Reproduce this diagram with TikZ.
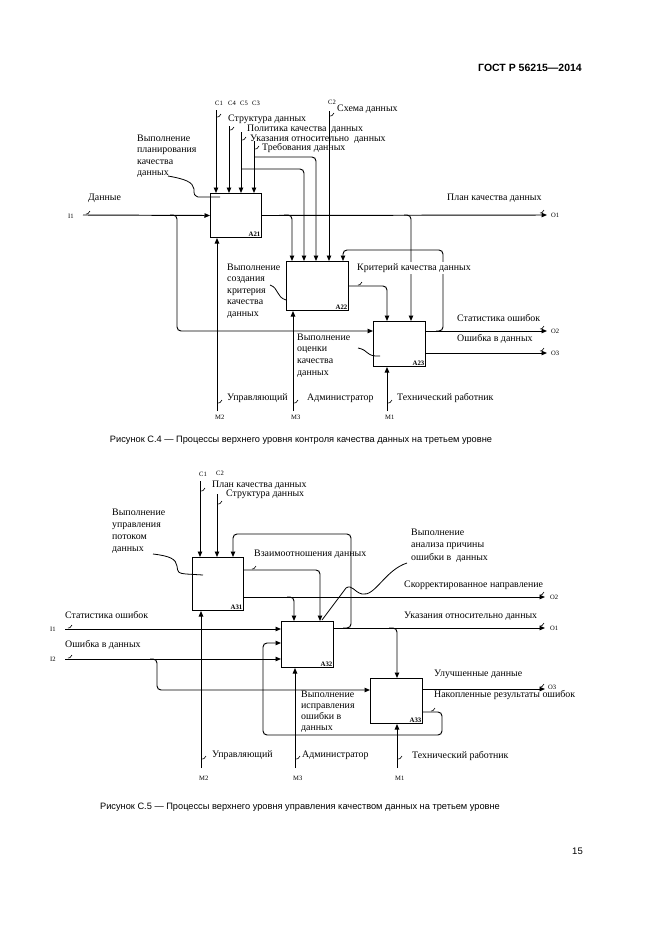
\documentclass[tikz,border=0pt]{standalone}
\usepackage{fontspec}
\setmainfont{Liberation Serif}
\newfontfamily\arialf{Liberation Sans}
\usetikzlibrary{arrows.meta}
\begin{document}
\begin{tikzpicture}[x=1pt,y=-1pt,
  every node/.style={inner sep=0pt},
  box/.style={draw, line width=1pt, anchor=north west},
  ln/.style={line width=0.95pt, rounded corners=4pt},
  arr/.style={ln, -{Triangle[length=5.5pt,width=4.5pt]}},
  lbl/.style={anchor=west, font=\fontsize{9.9}{11.4}\selectfont},
  mlbl/.style={anchor=north west, align=left, font=\fontsize{9.9}{11.5}\selectfont},
  tiny/.style={anchor=west, font=\fontsize{6.6}{7}\selectfont},
  code/.style={anchor=south east, inner sep=1.5pt, font=\bfseries\fontsize{6.8}{7}\selectfont},
  sq/.style={line width=0.6pt},
  lead/.style={line width=0.8pt},
  capt/.style={font=\arialf\fontsize{9.25}{10}\selectfont},
  sqg/.pic={\draw[sq] (0,0) .. controls (1.5,1.5) and (2.5,-1.5) .. (4,-3);}
]
\useasboundingbox[fill=white] (0,0) rectangle (661,935);

% header and footer
\node[anchor=east, font=\arialf\bfseries\fontsize{10.5}{12}\selectfont] (hdr) at (582,68) {ГОСТ Р 56215—2014};
\node[anchor=east, font=\arialf\fontsize{9.5}{11}\selectfont] (pg) at (583,851) {15};

% ================= Diagram 1 =================
\node[box, minimum width=51pt, minimum height=44pt] (A21) at (210,193) {};
\node[box, minimum width=62pt, minimum height=49pt] (A22) at (286,261) {};
\node[box, minimum width=52pt, minimum height=45pt] (A23) at (373,321) {};
\node[code] at (A21.south east) {A21};
\node[code] at (A22.south east) {A22};
\node[code] at (A23.south east) {A23};

% free ends and branch points
\coordinate (c1) at (216,110);
\coordinate (c4) at (229,126);
\coordinate (c5) at (241,132);
\coordinate (c3) at (254,141);
\coordinate (c2) at (329,111);
\coordinate (c5b) at (241,169);
\coordinate (c5t) at (304,169);
\coordinate (c3b) at (254,157);
\coordinate (c3t) at (316,157);
\coordinate (i1) at (83,215);
\coordinate (i1b) at (170,215);
\coordinate (i1c) at (177,331);
\coordinate (o1) at (547,215);
\coordinate (o1b) at (284,215);
\coordinate (o1c) at (292,215);
\coordinate (o1d) at (404,215);
\coordinate (o1e) at (411,215);
\coordinate (a22o) at (348,286);
\coordinate (a22c) at (387,286);
\coordinate (a23o2) at (425,331);
\coordinate (o2) at (547,331);
\coordinate (fbb) at (436,331);
\coordinate (fbc) at (443,250);
\coordinate (fbd) at (343,250);
\coordinate (a23o3) at (425,353);
\coordinate (o3) at (547,353);
\coordinate (m2) at (217,411);
\coordinate (m3) at (293,411);
\coordinate (m1) at (387,411);

% controls of A21
\draw[arr] (c1) -- (c1 |- A21.north);
\draw[arr] (c4) -- (c4 |- A21.north);
\draw[arr] (c5) -- (c5 |- A21.north);
\draw[arr] (c3) -- (c3 |- A21.north);
% branches to A22
\draw[arr] (c5b) -- (c5t) -- (c5t |- A22.north);
\draw[arr] (c3b) -- (c3t) -- (c3t |- A22.north);
\draw[arr] (c2) -- (c2 |- A22.north);
% input I1
\draw[arr] (i1) -- (A21.west);
\draw[arr] (i1b) -- (i1b -| i1c) -- (i1c) -- (i1c -| A23.west);
% output of A21
\draw[arr] (A21.east) -- (o1);
\draw[arr] (o1b) -- (o1c) -- (o1c |- A22.north);
\draw[arr] (o1d) -- (o1e) -- (o1e |- A23.north);
% A22 output
\draw[arr] (a22o) -- (a22c) -- (a22c |- A23.north);
% A23 outputs
\draw[arr] (a23o2) -- (o2);
\draw[arr] (fbb) -- (fbb -| fbc) -- (fbc) -- (fbd) -- (fbd |- A22.north);
\draw[arr] (a23o3) -- (o3);
% mechanisms
\draw[arr] (m2) -- (m2 |- A21.south);
\draw[arr] (m3) -- (m3 |- A22.south);
\draw[arr] (m1) -- (m1 |- A23.south);

% squiggles
\pic at (217,117) {sqg};
\pic at (230,130) {sqg};
\pic at (242,140) {sqg};
\pic at (255,149) {sqg};
\pic at (330,116) {sqg};
\pic at (86,214) {sqg};
\pic at (358,285) {sqg};
\pic at (540,213) {sqg};
\pic at (540,329) {sqg};
\pic at (540,351) {sqg};
\pic at (218,403) {sqg};
\pic at (294,403) {sqg};
\pic at (388,403) {sqg};

% leaders
\draw[lead] (168,176) .. controls (185,179) and (193,182) .. (194,189) .. controls (194,195) .. (198,197) -- (220,197);
\draw[lead] (270,285) .. controls (279,288) and (276,297) .. (286,300);
\draw[lead] (358,348) .. controls (369,350) and (366,357) .. (380,356);

% labels
\node[tiny] (tc1) at (215,103) {C1};
\node[tiny] (tc4) at (228,103) {C4};
\node[tiny] (tc5) at (240,103) {C5};
\node[tiny] (tc3) at (252,103) {C3};
\node[tiny] (tc2) at (328,102) {C2};
\node[lbl] (l1) at (228,119) {Структура данных};
\node[lbl] (l2) at (247,129) {Политика качества\ \ данных};
\node[lbl] (l3) at (250,139) {Указания относительно\ \ данных};
\node[lbl] (l4) at (262,148) {Требования данных};
\node[lbl] (l5) at (337,109) {Схема данных};
\node[lbl] (l6) at (88,198) {Данные};
\node[tiny] (ti1) at (68,216) {I1};
\node[lbl] (l7) at (447,198) {План качества данных};
\node[tiny] (to1) at (551,215) {O1};
\node[mlbl] (n21) at (137,134.5) {Выполнение\\планирования\\качества\\данных};
\node[mlbl] (n22) at (227,263.5) {Выполнение\\создания\\критерия\\качества\\данных};
\node[lbl, fill=white, inner ysep=2pt] (l8) at (357,268) {Критерий качества данных};
\node[mlbl, font=\fontsize{9.9}{11.7}\selectfont] (n23) at (297,333.5) {Выполнение\\оценки\\качества\\данных};
\node[lbl] (l9) at (457,318) {Статистика ошибок};
\node[tiny] (to2) at (551,331) {O2};
\node[lbl] (l10) at (457,339) {Ошибка в данных};
\node[tiny] (to3) at (551,353) {O3};
\node[lbl] (l11) at (227,398) {Управляющий};
\node[lbl] (l12) at (307,398) {Администратор};
\node[lbl] (l13) at (397,398) {Технический работник};
\node[tiny] (tm2) at (215,417) {M2};
\node[tiny] (tm3) at (291,417) {M3};
\node[tiny] (tm1) at (385,417) {M1};

\node[capt] (cap1) at (301,440) {Рисунок С.4 — Процессы верхнего уровня контроля качества данных на третьем уровне};

% ================= Diagram 2 =================
\node[box, minimum width=51pt, minimum height=53pt] (A31) at (192,557) {};
\node[box, minimum width=52pt, minimum height=46pt] (A32) at (281,621) {};
\node[box, minimum width=52pt, minimum height=45pt] (A33) at (370,678) {};
\node[code] at (A31.south east) {A31};
\node[code] at (A32.south east) {A32};
\node[code] at (A33.south east) {A33};

\coordinate (d1) at (200,481);
\coordinate (d2) at (217,494);
\coordinate (p1a) at (243,570);
\coordinate (p1b) at (320,570);
\coordinate (p2a) at (243,597);
\coordinate (q2) at (545,597);
\coordinate (p2b) at (287,597);
\coordinate (p2c) at (294,597);
\coordinate (p3a) at (333,628);
\coordinate (q1) at (545,628);
\coordinate (lpa) at (343,628);
\coordinate (lpb) at (351,534);
\coordinate (lpc) at (233,534);
\coordinate (p3b) at (389,628);
\coordinate (p3c) at (397,628);
\coordinate (p4a) at (422,689);
\coordinate (q3) at (545,689);
\coordinate (p5a) at (422,712);
\coordinate (p5b) at (442,735);
\coordinate (p5c) at (263,643);
\coordinate (j1) at (65,629);
\coordinate (j2) at (65,659);
\coordinate (j2b) at (150,659);
\coordinate (j2c) at (157,690);
\coordinate (n2) at (201,768);
\coordinate (n3) at (295,768);
\coordinate (n1) at (397,768);

\draw[arr] (d1) -- (d1 |- A31.north);
\draw[arr] (d2) -- (d2 |- A31.north);
\draw[arr] (p1a) -- (p1b) -- (p1b |- A32.north);
\draw[arr] (p2a) -- (q2);
\draw[arr] (p2b) -- (p2c) -- (p2c |- A32.north);
\draw[arr] (p3a) -- (q1);
\draw[arr] (lpa) -- (lpa -| lpb) -- (lpb) -- (lpc) -- (lpc |- A31.north);
\draw[arr] (p3b) -- (p3c) -- (p3c |- A33.north);
\draw[arr] (p4a) -- (q3);
\draw[arr] (p5a) -- (p5a -| p5b) -- (p5b) -- (p5b -| p5c) -- (p5c) -- (p5c -| A32.west);
\draw[arr] (j1) -- (j1 -| A32.west);
\draw[arr] (j2) -- (j2 -| A32.west);
\draw[arr] (j2b) -- (j2b -| j2c) -- (j2c) -- (j2c -| A33.west);
\draw[arr] (n2) -- (n2 |- A31.south);
\draw[arr] (n3) -- (n3 |- A32.south);
\draw[arr] (n1) -- (n1 |- A33.south);

% squiggles
\pic at (201,491) {sqg};
\pic at (218,504) {sqg};
\pic at (252,569) {sqg};
\pic at (68,628) {sqg};
\pic at (68,658) {sqg};
\pic at (540,595) {sqg};
\pic at (540,626) {sqg};
\pic at (540,687) {sqg};
\pic at (431,711) {sqg};
\pic at (202,759) {sqg};
\pic at (296,759) {sqg};
\pic at (398,759) {sqg};

% leaders
\draw[lead] (153,554) .. controls (170,556) and (176,559) .. (177,566) .. controls (178,573) .. (186,574) -- (203,575);
\draw[lead] (407,563) .. controls (385,570) and (375,597) .. (362,594) .. controls (354,592) and (352,584) .. (346,588) -- (322,620);

% labels
\node[tiny] (uc1) at (199,474) {C1};
\node[tiny] (uc2) at (216,473) {C2};
\node[lbl] (k1) at (212,485) {План качества данных};
\node[lbl] (k2) at (226,494) {Структура данных};
\node[mlbl, font=\fontsize{9.9}{12.2}\selectfont] (n31) at (112,508.5) {Выполнение\\управления\\потоком\\данных};
\node[lbl] (k3) at (254,554) {Взаимоотношения данных};
\node[mlbl, font=\fontsize{9.9}{12.5}\selectfont] (n32) at (411,528.5) {Выполнение\\анализа причины\\ошибки в\ \ данных};
\node[lbl] (k4) at (404,585) {Скорректированное направление};
\node[tiny] (uo2) at (550,597) {O2};
\node[lbl] (k5) at (404,616) {Указания относительно данных};
\node[tiny] (uo1) at (550,628) {O1};
\node[lbl] (k6) at (65,615) {Статистика ошибок};
\node[tiny] (ui1) at (50,629) {I1};
\node[lbl] (k7) at (65,645) {Ошибка в данных};
\node[tiny] (ui2) at (50,659) {I2};
\node[lbl] (k8) at (434,674) {Улучшенные данные};
\node[tiny] (uo3) at (548,687) {O3};
\node[lbl] (k9) at (434,695) {Накопленные результаты ошибок};
\node[mlbl, font=\fontsize{9.9}{11.1}\selectfont] (n33) at (301,690.5) {Выполнение\\исправления\\ошибки в\\данных};
\node[lbl] (k10) at (212,755) {Управляющий};
\node[lbl] (k11) at (302,755) {Администратор};
\node[lbl] (k12) at (412,756) {Технический работник};
\node[tiny] (um2) at (199,778) {M2};
\node[tiny] (um3) at (293,778) {M3};
\node[tiny] (um1) at (395,778) {M1};

\node[capt] (cap2) at (300,807) {Рисунок С.5 — Процессы верхнего уровня управления качеством данных на третьем уровне};
\end{tikzpicture}
\end{document}
